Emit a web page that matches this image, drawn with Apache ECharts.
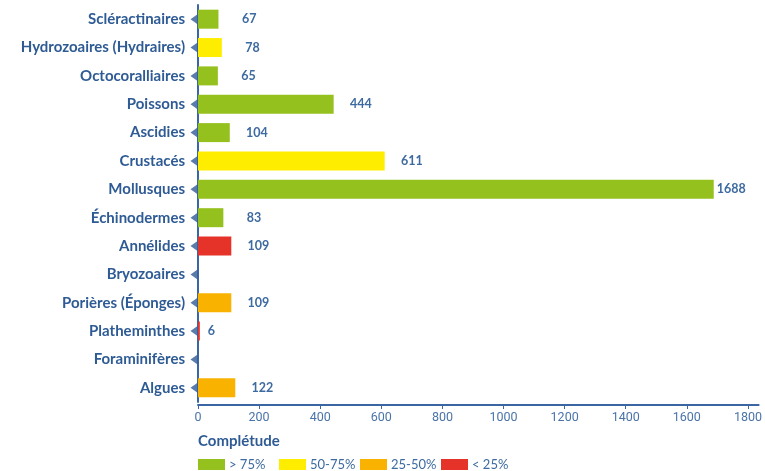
<!DOCTYPE html>
<html>
<head>
<meta charset="utf-8">
<script src="https://cdn.jsdelivr.net/npm/echarts@6/dist/echarts.min.js"></script>
<style>
  html, body { margin: 0; padding: 0; background: #fff; }
  #chart { width: 765px; height: 471px; }
</style>
</head>
<body>
<div id="chart"></div>
<script>
// Taxonomic groups, top to bottom
const categories = [
  'Scléractinaires', 'Hydrozoaires (Hydraires)', 'Octocoralliaires', 'Poissons',
  'Ascidies', 'Crustacés', 'Mollusques', 'Échinodermes', 'Annélides',
  'Bryozoaires', 'Porières (Éponges)', 'Platheminthes', 'Foraminifères', 'Algues'
];
// Number of species per group (null = no data)
const counts = [67, 78, 65, 444, 104, 611, 1688, 83, 109, null, 109, 6, null, 122];
// Completeness class per group (index into levels)
const completeness = [0, 1, 0, 0, 0, 1, 0, 0, 3, null, 2, 3, null, 2];
const levels = ['> 75%', '50-75%', '25-50%', '< 25%'];
const levelColors = ['#95c11f', '#ffed00', '#f9b200', '#e6332a'];
const xTicks = { min: 0, max: 1835, interval: 200 };

const textBlue = '#2f5b95';
const axisBlue = '#3a67a3';
const valueBlue = '#3d6aa0';

const rev = a => a.slice().reverse();
const valueFont = { color: valueBlue, fontFamily: 'Lato', fontWeight: 'bold', fontSize: 12.5 };

const series = levels.map((name, li) => ({
  name,
  type: 'bar',
  stack: 'all',
  barWidth: 19,
  itemStyle: { color: levelColors[li] },
  label: {
    show: true,
    position: 'right',
    distance: 8,
    formatter: p => '{v|' + p.value + '}',
    rich: { v: Object.assign({ width: 30, align: 'right' }, valueFont) }
  },
  data: rev(counts.map((v, i) => {
    if (completeness[i] !== li || v == null) return '-';
    // long bar: label hugs the bar end; tiny bar: short gap
    if (v > 1500) return { value: v, label: { distance: 3, formatter: '{w|' + v + '}', rich: { w: valueFont } } };
    if (v < 20) return { value: v, label: { distance: 8, formatter: '{w|' + v + '}', rich: { w: valueFont } } };
    return v;
  }))
}));

// Small left-pointing markers on the category axis
series.push({
  type: 'scatter',
  symbol: 'triangle',
  symbolRotate: 90,
  symbolSize: [10, 7],
  symbolOffset: [-4, 0],
  itemStyle: { color: textBlue },
  silent: true,
  z: 5,
  data: rev(categories).map(c => [0, c])
});

// One legend block per completeness class, evenly spaced in a row
const legends = levels.map((name, i) => ({
  data: [name],
  left: 198 + i * 81,
  top: 458,
  padding: 0,
  itemWidth: 27,
  itemHeight: 11,
  icon: 'rect',
  textStyle: { color: valueBlue, fontFamily: 'Lato', fontSize: 13, padding: [0, 0, 0, -1] }
}));

const chart = echarts.init(document.getElementById('chart'), null, { renderer: 'canvas' });
chart.setOption({
  animation: false,
  title: {
    text: 'Complétude',
    left: 193,
    top: 429,
    textStyle: { color: textBlue, fontFamily: 'Lato', fontWeight: 'bold', fontSize: 15 }
  },
  legend: legends,
  grid: { left: 198, right: 6, top: 5, height: 397, containLabel: false },
  xAxis: {
    type: 'value',
    min: xTicks.min,
    max: xTicks.max,
    interval: xTicks.interval,
    offset: 3,
    axisLine: { show: true, lineStyle: { color: axisBlue, width: 2 } },
    axisTick: { show: true, length: 4, lineStyle: { color: axisBlue } },
    axisLabel: { color: '#4a74a8', fontFamily: 'Roboto', fontSize: 12.5, margin: 6, showMaxLabel: false, formatter: v => String(v) },
    splitLine: { show: false }
  },
  yAxis: {
    type: 'category',
    data: rev(categories),
    axisLine: { show: true, lineStyle: { color: axisBlue, width: 2 } },
    axisTick: { show: false },
    axisLabel: { color: textBlue, fontFamily: 'Lato', fontWeight: 'bold', fontSize: 15, margin: 13 }
  },
  series
});
</script>
</body>
</html>
